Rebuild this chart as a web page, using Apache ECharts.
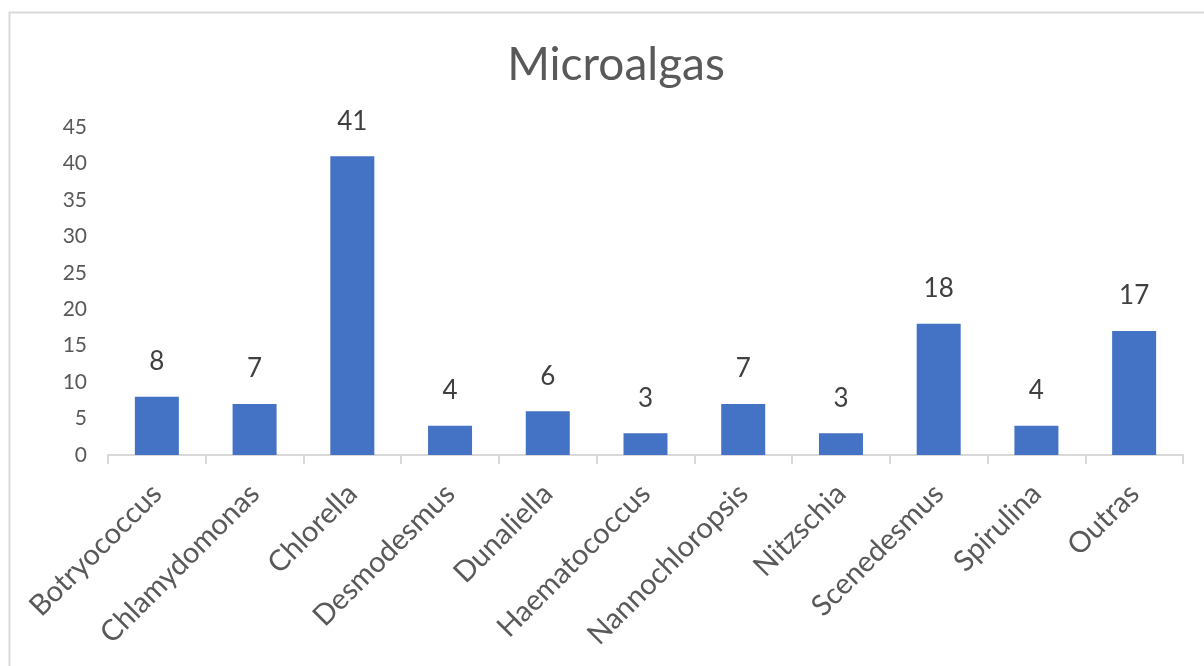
<!DOCTYPE html>
<html>
<head>
<meta charset="utf-8">
<script src="https://cdn.jsdelivr.net/npm/echarts@6/dist/echarts.min.js"></script>
<style>
html,body{margin:0;padding:0;background:#fff;}
#chart{width:1204px;height:666px;}
</style>
</head>
<body>
<div id="chart"></div>
<script>
const categories = ["Botryococcus","Chlamydomonas","Chlorella","Desmodesmus","Dunaliella","Haematococcus","Nannochloropsis","Nitzschia","Scenedesmus","Spirulina","Outras"];
const counts = [8,7,41,4,6,3,7,3,18,4,17];
const titleText = "Microalgas";

const chart = echarts.init(document.getElementById('chart'));
chart.setOption({
  animation: false,
  backgroundColor: '#ffffff',
  graphic: [{
    type: 'rect',
    shape: {x: 9.5, y: 12.5, width: 1220, height: 700},
    style: {fill: 'none', stroke: '#d9d9d9', lineWidth: 2},
    silent: true
  }],
  title: {
    text: titleText,
    left: 611,
    top: 37,
    textAlign: 'center',
    textStyle: {fontFamily: 'Lato', fontSize: 46, fontWeight: 'normal', color: '#595959'}
  },
  grid: {left: 108, right: 21, top: 127, bottom: 211, containLabel: false},
  xAxis: {
    type: 'category',
    data: categories,
    axisLine: {lineStyle: {color: '#d9d9d9', width: 2}},
    axisTick: {show: true, length: 9, lineStyle: {color: '#d9d9d9', width: 2}},
    axisLabel: {rotate: 45, interval: 0, margin: 34, fontFamily: 'Lato', fontSize: 29, color: '#595959'}
  },
  yAxis: {
    type: 'value',
    min: 0, max: 45, interval: 5,
    axisLine: {show: false},
    axisTick: {show: false},
    splitLine: {show: false},
    axisLabel: {margin: 21, fontFamily: 'Lato', fontSize: 21, color: '#595959'}
  },
  series: [{
    type: 'bar',
    data: counts,
    barWidth: 44,
    itemStyle: {color: '#4472c4'},
    label: {show: true, position: 'top', distance: 22, fontFamily: 'Lato', fontSize: 26, color: '#404040'}
  }]
});
</script>
</body>
</html>
